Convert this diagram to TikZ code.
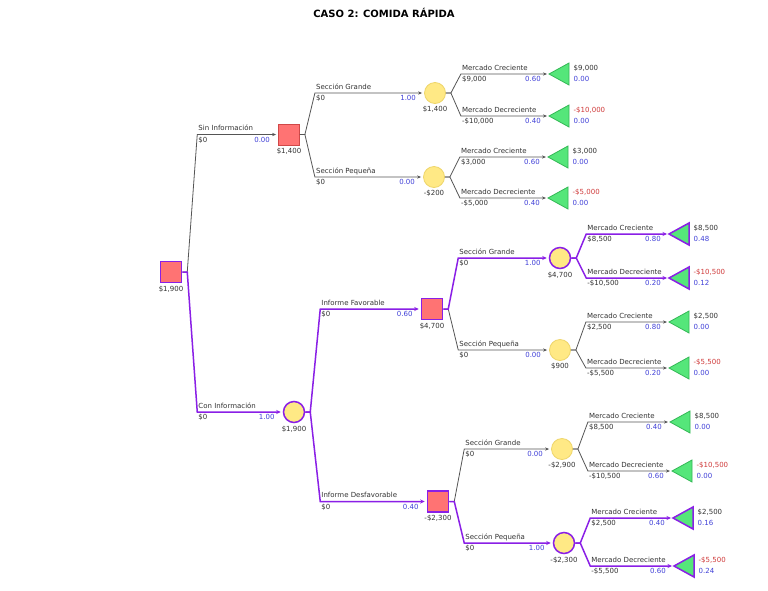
\documentclass[tikz,border=0pt]{standalone}
\usepackage{fontspec}
\setmainfont{DejaVu Sans}
\usetikzlibrary{arrows.meta,calc}
\definecolor{optc}{HTML}{8A1FE6}
\definecolor{edgec}{HTML}{555555}
\definecolor{sqfill}{HTML}{FF7373}
\definecolor{sqdraw}{HTML}{D04848}
\definecolor{cfill}{HTML}{FFE985}
\definecolor{cdraw}{HTML}{EED56A}
\definecolor{tfill}{HTML}{55E67A}
\definecolor{tdraw}{HTML}{33B855}
\definecolor{txtc}{HTML}{333333}
\definecolor{probc}{HTML}{4040D8}
\definecolor{negc}{HTML}{D03A3A}
\tikzset{
 lbl/.style={font=\fontsize{7}{8}\selectfont, text=txtc, inner sep=0pt},
 prob/.style={lbl, text=probc},
 neg/.style={lbl, text=negc},
 dec/.style={rectangle, minimum size=21pt, inner sep=0pt, fill=sqfill, draw=sqdraw, line width=0.8pt},
 chance/.style={circle, minimum size=21pt, inner sep=0pt, fill=cfill, draw=cdraw, line width=0.8pt},
 opt/.style={draw=optc, line width=1.5pt},
 termbox/.style={fill=tfill, draw=tdraw, line width=0.8pt, line join=miter},
 edge/.style={draw=edgec, line width=0.8pt, -{Stealth[length=4pt,width=3.2pt]}, shorten >=2pt},
 optedge/.style={draw=optc, line width=1.5pt, -{Stealth[length=4.5pt,width=4pt]}, shorten >=2pt},
 val/.style={lbl, anchor=north},
}
% branch: #1 style, #2 source node, #3 target point, #4 prefix, #5 name, #6 value, #7 prob
\newcommand{\branchto}[7]{%
 \draw[#1] let \p1=(#2.east), \p2=(#3) in (\p1) -- (\x1+5pt,\y1) -- (\x1+15pt,\y2) -- (\p2);
 \path let \p1=(#2.east), \p2=(#3) in
   node[lbl,anchor=base west] (#4n) at (\x1+16pt,\y2+4pt) {#5}
   node[lbl,anchor=base west] (#4v) at (\x1+16pt,\y2-7.5pt) {#6}
   node[prob,anchor=base east] (#4p) at (\x2-8pt,\y2-7.5pt) {#7};}
% terminal: #1 name, #2 position, #3 extra style, #4 payoff style, #5 payoff, #6 prob
\newcommand{\termnode}[6]{%
 \coordinate (#1) at #2;
 \draw[termbox,#3] (#1) -- ++(20,-11) -- ++(0,22) -- cycle;
 \node[#4,anchor=base west] (#1a) at ([shift={(24.5,-4)}]#1) {#5};
 \node[prob,anchor=base west] (#1b) at ([shift={(24.5,7)}]#1) {#6};}
\begin{document}
\begin{tikzpicture}[x=1pt,y=-1pt]
\useasboundingbox (0,0) rectangle (768,590);
\fill[white] (0,0) rectangle (768,590);
\node[font=\bfseries\fontsize{10}{12}\selectfont, text=black, inner sep=0pt] (title) at (384,13) {CASO 2: COMIDA RÁPIDA};
% decision and chance nodes
\node[dec,opt] (root) at (171,272) {};
\node[dec] (sq1) at (289,134.5) {};
\node[chance] (c1) at (435,93) {};
\node[chance] (c2) at (434,177) {};
\node[chance,opt] (c3) at (294,412) {};
\node[dec,opt] (sq2) at (432,309) {};
\node[dec,opt] (sq3) at (438,501.5) {};
\node[chance,opt] (c4) at (560,258) {};
\node[chance] (c5) at (560,350) {};
\node[chance] (c6) at (562,449) {};
\node[chance,opt] (c7) at (564,543) {};
% node values
\node[val] (rootl) at ([yshift=-2.5pt]root.south) {\$1,900};
\node[val] (sq1l) at ([yshift=-2.5pt]sq1.south) {\$1,400};
\node[val] (c1l) at ([yshift=-2.5pt]c1.south) {\$1,400};
\node[val] (c2l) at ([yshift=-2.5pt]c2.south) {-\$200};
\node[val] (c3l) at ([yshift=-2.5pt]c3.south) {\$1,900};
\node[val] (sq2l) at ([yshift=-2.5pt]sq2.south) {\$4,700};
\node[val] (sq3l) at ([yshift=-2.5pt]sq3.south) {-\$2,300};
\node[val] (c4l) at ([yshift=-2.5pt]c4.south) {\$4,700};
\node[val] (c5l) at ([yshift=-2.5pt]c5.south) {\$900};
\node[val] (c6l) at ([yshift=-2.5pt]c6.south) {-\$2,900};
\node[val] (c7l) at ([yshift=-2.5pt]c7.south) {-\$2,300};
% terminals
\termnode{t1}{(549,74)}{}{lbl}{\$9,000}{0.00}
\termnode{t2}{(549,116)}{}{neg}{-\$10,000}{0.00}
\termnode{t3}{(548,157)}{}{lbl}{\$3,000}{0.00}
\termnode{t4}{(548,198)}{}{neg}{-\$5,000}{0.00}
\termnode{t5}{(669,234)}{opt}{lbl}{\$8,500}{0.48}
\termnode{t6}{(669,278)}{opt}{neg}{-\$10,500}{0.12}
\termnode{t7}{(669,322)}{}{lbl}{\$2,500}{0.00}
\termnode{t8}{(669,368)}{}{neg}{-\$5,500}{0.00}
\termnode{t9}{(670,422)}{}{lbl}{\$8,500}{0.00}
\termnode{t10}{(672,471)}{}{neg}{-\$10,500}{0.00}
\termnode{t11}{(673,518)}{opt}{lbl}{\$2,500}{0.16}
\termnode{t12}{(674,566)}{opt}{neg}{-\$5,500}{0.24}
% non-optimal branches
\branchto{edge}{root}{sq1.west}{b1}{Sin Información}{\$0}{0.00}
\branchto{edge}{sq1}{c1.west}{b3}{Sección Grande}{\$0}{1.00}
\branchto{edge}{sq1}{c2.west}{b4}{Sección Pequeña}{\$0}{0.00}
\branchto{edge}{c1}{t1}{b5}{Mercado Creciente}{\$9,000}{0.60}
\branchto{edge}{c1}{t2}{b6}{Mercado Decreciente}{-\$10,000}{0.40}
\branchto{edge}{c2}{t3}{b7}{Mercado Creciente}{\$3,000}{0.60}
\branchto{edge}{c2}{t4}{b8}{Mercado Decreciente}{-\$5,000}{0.40}
\branchto{edge}{sq2}{c5.west}{b10}{Sección Pequeña}{\$0}{0.00}
\branchto{edge}{c5}{t7}{b13}{Mercado Creciente}{\$2,500}{0.80}
\branchto{edge}{c5}{t8}{b14}{Mercado Decreciente}{-\$5,500}{0.20}
\branchto{edge}{sq3}{c6.west}{b15}{Sección Grande}{\$0}{0.00}
\branchto{edge}{c6}{t9}{b17}{Mercado Creciente}{\$8,500}{0.40}
\branchto{edge}{c6}{t10}{b18}{Mercado Decreciente}{-\$10,500}{0.60}
% optimal branches
\branchto{optedge}{root}{c3.west}{b2}{Con Información}{\$0}{1.00}
\branchto{optedge}{c3}{sq2.west}{b9a}{Informe Favorable}{\$0}{0.60}
\branchto{optedge}{c3}{sq3.west}{b9b}{Informe Desfavorable}{\$0}{0.40}
\branchto{optedge}{sq2}{c4.west}{b9}{Sección Grande}{\$0}{1.00}
\branchto{optedge}{c4}{t5}{b11}{Mercado Creciente}{\$8,500}{0.80}
\branchto{optedge}{c4}{t6}{b12}{Mercado Decreciente}{-\$10,500}{0.20}
\branchto{optedge}{sq3}{c7.west}{b16}{Sección Pequeña}{\$0}{1.00}
\branchto{optedge}{c7}{t11}{b19}{Mercado Creciente}{\$2,500}{0.40}
\branchto{optedge}{c7}{t12}{b20}{Mercado Decreciente}{-\$5,500}{0.60}
\end{tikzpicture}
\end{document}
